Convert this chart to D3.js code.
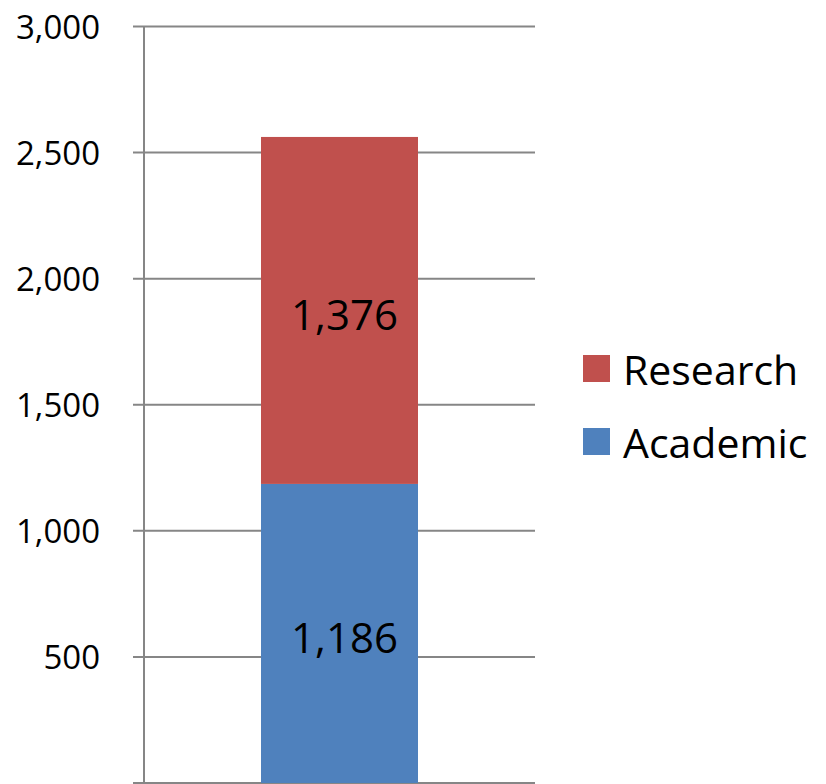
<!DOCTYPE html>
<html><head><meta charset="utf-8">
<script src="https://cdn.jsdelivr.net/npm/d3@7/dist/d3.min.js"></script>
<style>body{margin:0;background:#fff}svg{display:block}text{font-family:"Open Sans",sans-serif}</style>
</head><body><svg id="c" width="826" height="784"></svg>
<script>
const categories = ["Total"];
const seriesNames = ["Academic", "Research"];
const academic = [1186];
const research = [1376];
const yTicks = [0, 500, 1000, 1500, 2000, 2500, 3000];
const yTickLabels = ["500", "1,000", "1,500", "2,000", "2,500", "3,000"];
const colors = {Academic: "#4F81BD", Research: "#C0504D"};

const svg = d3.select("#c");
const y = d3.scaleLinear().domain([0, 3000]).range([783, 26.5]);
const x = d3.scaleBand().domain(categories).range([144, 535]).paddingInner(0).paddingOuter(0.3);

// gridlines
svg.append("g").selectAll("line").data(yTicks).join("line")
  .attr("x1", 133).attr("x2", 535)
  .attr("y1", d => y(d)).attr("y2", d => y(d))
  .attr("stroke", "#868686").attr("stroke-width", 2);
// axis line
svg.append("line").attr("x1", 144).attr("x2", 144).attr("y1", y(3000)).attr("y2", y(0))
  .attr("stroke", "#868686").attr("stroke-width", 2);
// tick labels (0 lies below the visible area in the reference)
svg.append("g").selectAll("text").data(yTickLabels).join("text")
  .attr("x", 100).attr("y", d => y(+d.replace(/,/g, ""))).attr("text-anchor", "end")
  .attr("dominant-baseline", "central").attr("font-size", 33).attr("fill", "#000")
  .text(d => d);

const rows = categories.map((c, i) => ({cat: c, Academic: academic[i], Research: research[i]}));
const stack = d3.stack().keys(seriesNames)(rows);
const bw = 157;
stack.forEach(s => {
  s.forEach(d => {
    const cx = x(d.data.cat) + x.bandwidth() / 2;
    svg.append("rect").attr("x", cx - bw / 2).attr("width", bw)
      .attr("y", y(d[1])).attr("height", y(d[0]) - y(d[1]))
      .attr("fill", colors[s.key]);
    svg.append("text").attr("x", cx + 5).attr("y", (y(d[0]) + y(d[1])) / 2 + 3)
      .attr("text-anchor", "middle").attr("dominant-baseline", "central")
      .attr("font-size", 42).attr("fill", "#000")
      .text(d3.format(",")(d[1] - d[0]));
  });
});

// legend
const legend = ["Research", "Academic"];
legend.forEach((k, i) => {
  const cy = 368.5 + i * 73;
  svg.append("rect").attr("x", 583).attr("y", cy - 13.5).attr("width", 27).attr("height", 27).attr("fill", colors[k]);
  svg.append("text").attr("x", 623).attr("y", cy).attr("dominant-baseline", "central")
    .attr("font-size", 41).attr("fill", "#000").text(k);
});
</script></body></html>
